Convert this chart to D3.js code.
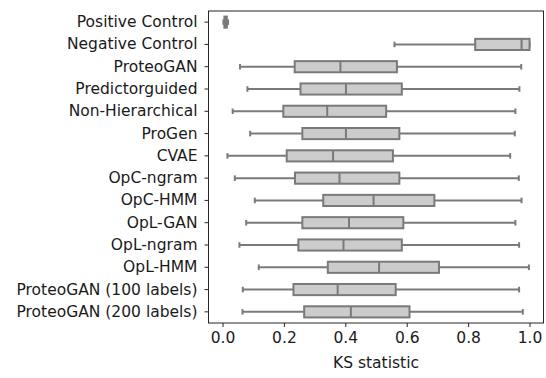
<!DOCTYPE html>
<html><head><meta charset="utf-8">
<script src="https://cdn.jsdelivr.net/npm/d3@7"></script>
<style>body{margin:0;background:#fff}svg{display:block}text{font-family:"DejaVu Sans",sans-serif;fill:#1a1a1a}</style>
</head><body><svg id="c" width="546" height="378"></svg>
<script>
const categories = ["Positive Control","Negative Control","ProteoGAN","Predictorguided","Non-Hierarchical","ProGen","CVAE","OpC-ngram","OpC-HMM","OpL-GAN","OpL-ngram","OpL-HMM","ProteoGAN (100 labels)","ProteoGAN (200 labels)"];
const whiskerLow = [0.003,0.560,0.057,0.081,0.033,0.090,0.016,0.040,0.105,0.077,0.055,0.118,0.066,0.065];
const q1 =         [0.006,0.823,0.235,0.254,0.198,0.260,0.209,0.236,0.328,0.260,0.247,0.343,0.231,0.266];
const median =     [0.010,0.974,0.384,0.402,0.341,0.402,0.360,0.381,0.492,0.412,0.394,0.510,0.375,0.418];
const q3 =         [0.014,1.000,0.568,0.584,0.533,0.576,0.555,0.576,0.690,0.589,0.584,0.705,0.564,0.609];
const whiskerHigh =[0.018,1.000,0.973,0.967,0.954,0.952,0.937,0.965,0.974,0.954,0.966,0.998,0.966,0.978];
const xTicks = [0.0,0.2,0.4,0.6,0.8,1.0];
const xLabel = "KS statistic";

const svg = d3.select("#c");
const L=208.5, R=543.5, T=11, B=323;
const FS = 15.5;
const x = d3.scaleLinear().domain([-0.0457,1.0455]).range([L,R]);
const y = d3.scaleBand().domain(categories).range([T,B]).paddingInner(0).paddingOuter(0);
const edge="#7a7a7a", fill="#cccccc", SW=2;
const bh = y.bandwidth()*0.5;

const data = categories.map((c,i)=>({c,lo:whiskerLow[i],q1:q1[i],m:median[i],q3:q3[i],hi:whiskerHigh[i]}));
const g = svg.append("g");
data.forEach(d=>{
  const cy = y(d.c)+y.bandwidth()/2;
  const gg = g.append("g");
  gg.append("line").attr("x1",x(d.lo)).attr("x2",x(d.q1)).attr("y1",cy).attr("y2",cy).attr("stroke",edge).attr("stroke-width",SW);
  gg.append("line").attr("x1",x(d.q3)).attr("x2",x(d.hi)).attr("y1",cy).attr("y2",cy).attr("stroke",edge).attr("stroke-width",SW);
  [d.lo,d.hi].forEach(v=>gg.append("line").attr("x1",x(v)).attr("x2",x(v)).attr("y1",cy-bh/4).attr("y2",cy+bh/4).attr("stroke",edge).attr("stroke-width",SW));
  gg.append("rect").attr("x",x(d.q1)).attr("y",cy-bh/2).attr("width",Math.max(0.5,x(d.q3)-x(d.q1))).attr("height",bh).attr("fill",fill).attr("stroke",edge).attr("stroke-width",SW);
  gg.append("line").attr("x1",x(d.m)).attr("x2",x(d.m)).attr("y1",cy-bh/2).attr("y2",cy+bh/2).attr("stroke",edge).attr("stroke-width",SW);
});

svg.append("rect").attr("x",L).attr("y",T).attr("width",R-L).attr("height",B-T).attr("fill","none").attr("stroke","#262626").attr("stroke-width",1);

const xa = svg.append("g").attr("transform",`translate(0,${B})`).call(d3.axisBottom(x).tickValues(xTicks).tickFormat(d3.format(".1f")).tickSize(4).tickPadding(5));
const ya = svg.append("g").attr("transform",`translate(${L},0)`).call(d3.axisLeft(y).tickSize(4).tickPadding(7));
[xa,ya].forEach(a=>{a.attr("font-size",FS).attr("font-family","DejaVu Sans");a.select(".domain").remove();a.selectAll("line").attr("stroke","#262626");a.selectAll("text").style("font-size",FS+"px").attr("fill","#1a1a1a");});
svg.append("text").attr("x",(L+R)/2).attr("y",368).attr("text-anchor","middle").style("font-size",FS+"px").text(xLabel);
</script></body></html>
